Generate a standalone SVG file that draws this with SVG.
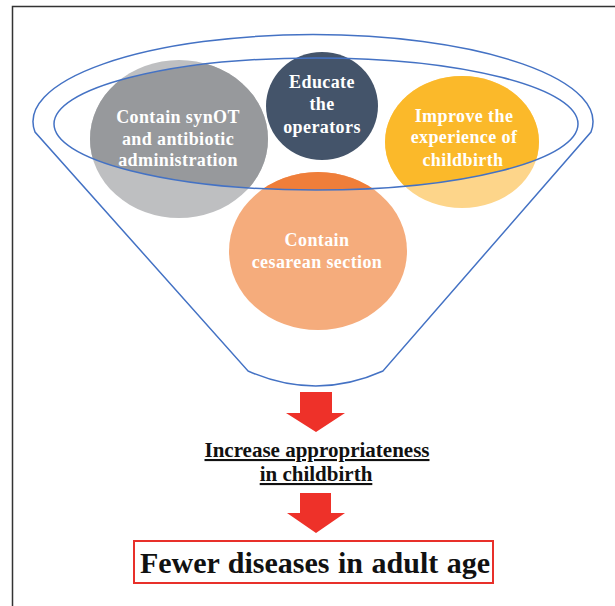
<svg xmlns="http://www.w3.org/2000/svg" width="615" height="606" viewBox="0 0 615 606">
<style>
.lbl{font-family:"Liberation Serif","Times New Roman",serif;font-weight:bold;font-size:18px;fill:#ffffff;text-anchor:middle;letter-spacing:0.4px}
.blk{font-family:"Liberation Serif","Times New Roman",serif;font-weight:bold;fill:#111111;text-anchor:middle}
.funnel{fill:none;stroke:#4472C4;stroke-width:1.5}
.arrow{fill:#EE3129}
</style>
<defs>
<clipPath id="innerClip"><ellipse cx="316" cy="124" rx="262" ry="66"/></clipPath>
</defs>
<rect x="12.5" y="6.5" width="620" height="620" fill="#ffffff" stroke="#333333" stroke-width="1.5"/>

<g id="node-synot">
<ellipse cx="179" cy="139" rx="89" ry="79" fill="#BEBFC1"/>
<ellipse cx="179" cy="139" rx="89" ry="79" fill="#97999C" clip-path="url(#innerClip)"/>
<text class="lbl" x="178" y="123">Contain synOT</text>
<text class="lbl" x="178" y="145">and antibiotic</text>
<text class="lbl" x="178" y="166">administration</text>
</g>
<g id="node-educate">
<ellipse cx="322" cy="106" rx="56" ry="54" fill="#44546A"/>
<text class="lbl" x="322" y="88">Educate</text>
<text class="lbl" x="322" y="110">the</text>
<text class="lbl" x="322" y="133">operators</text>
</g>
<g id="node-experience">
<ellipse cx="462" cy="142" rx="77" ry="66" fill="#FDD58A"/>
<ellipse cx="462" cy="142" rx="77" ry="66" fill="#FBB92A" clip-path="url(#innerClip)"/>
<text class="lbl" x="464" y="122">Improve the</text>
<text class="lbl" x="464" y="143">experience of</text>
<text class="lbl" x="463" y="166">childbirth</text>
</g>
<g id="node-cesarean">
<ellipse cx="318" cy="251" rx="89" ry="79" fill="#F5AC7C"/>
<ellipse cx="318" cy="251" rx="89" ry="79" fill="#EF7E3A" clip-path="url(#innerClip)"/>
<text class="lbl" x="317" y="246">Contain</text>
<text class="lbl" x="317" y="268">cesarean  section</text>
</g>

<g id="node-funnel">
<path class="funnel" d="M 35 132 A 280 87 0 1 1 591 132 L 383 371 Q 316 401 248 371 Z"/>
<ellipse class="funnel" cx="316" cy="124" rx="262" ry="66"/>
</g>

<g id="node-appropriateness">
<text class="blk" x="317" y="457" font-size="21" text-decoration="underline">Increase appropriateness</text>
<text class="blk" x="316" y="481" font-size="21" text-decoration="underline">in childbirth</text>
</g>

<g id="node-fewer">
<rect x="134" y="541" width="359" height="42" fill="#ffffff" stroke="#E8302A" stroke-width="2"/>
<text class="blk" x="315" y="573" font-size="30" word-spacing="1">Fewer diseases in adult age</text>
</g>

<g id="connectors">
<polygon class="arrow" points="300,392 332,392 332,413 345,413 316,432 286,413 300,413"/>
<polygon class="arrow" points="300,493 331,493 331,513 345,513 316,533 287,513 300,513"/>
</g>
</svg>
